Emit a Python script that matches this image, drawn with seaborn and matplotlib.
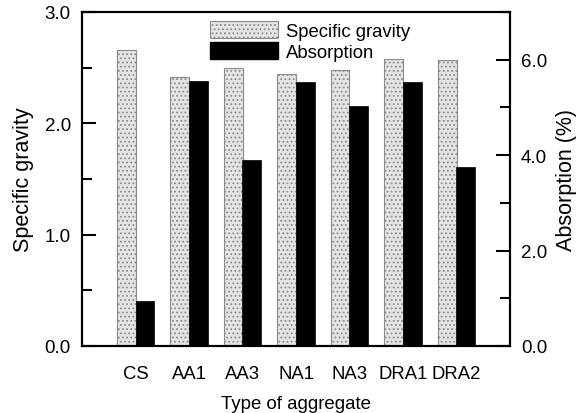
import numpy as np
import pandas as pd
import matplotlib
matplotlib.use("Agg")
import matplotlib.pyplot as plt
import seaborn as sns
from matplotlib.ticker import MultipleLocator, FormatStrFormatter
from matplotlib.patches import Patch

categories = ["CS", "AA1", "AA3", "NA1", "NA3", "DRA1", "DRA2"]
specific_gravity = [2.66, 2.42, 2.50, 2.44, 2.48, 2.58, 2.57]
absorption = [0.94, 5.56, 3.90, 5.54, 5.04, 5.54, 3.75]

sns.set_style("ticks")
plt.rcParams["font.family"] = ["Liberation Sans", "DejaVu Sans"]
plt.rcParams["hatch.linewidth"] = 0.8
for k in ["text.color", "axes.labelcolor", "xtick.color", "ytick.color", "axes.edgecolor"]:
    plt.rcParams[k] = "black"

fig = plt.figure(figsize=(5.84, 4.14), dpi=100)
ax = fig.add_axes([82/584, 1-347/414, 428/584, 334/414])
ax2 = ax.twinx()

bw = 0.355
df = pd.DataFrame({"cat": categories, "sg": specific_gravity, "ab": absorption})

sns.barplot(data=df, x="cat", y="sg", ax=ax, width=bw, color="#e4e4e4",
            edgecolor="#8a8a8a", linewidth=0.8, hatch="....", saturation=1)
for p in ax.patches:
    p.set_x(p.get_x() - bw/2)
sns.barplot(data=df, x="cat", y="ab", ax=ax2, width=bw, color="black",
            edgecolor="black", linewidth=0.5, saturation=1)
for p in ax2.patches:
    p.set_x(p.get_x() + bw/2)

ax.set_xlim(-1, 7)
ax.set_ylim(0, 3.0)
ax2.set_ylim(0, 7.0)

ax.yaxis.set_major_locator(MultipleLocator(1.0))
ax.yaxis.set_minor_locator(MultipleLocator(0.5))
ax2.yaxis.set_major_locator(MultipleLocator(2.0))
ax2.yaxis.set_minor_locator(MultipleLocator(1.0))
ax.yaxis.set_major_formatter(FormatStrFormatter("%.1f"))
ax2.yaxis.set_major_formatter(FormatStrFormatter("%.1f"))

for a in (ax, ax2):
    a.tick_params(axis="y", which="major", direction="in", length=10, width=1.5,
                  labelsize=13.5, pad=8)
    a.tick_params(axis="y", which="minor", direction="in", length=7, width=1.5)
    for s in a.spines.values():
        s.set_visible(True)
        s.set_linewidth(1.5)
ax.tick_params(axis="x", length=0, labelsize=13.3, pad=14)
ax2.tick_params(axis="y", which="both", right=True, left=False)

ax.set_xlabel("Type of aggregate", fontsize=13.4, labelpad=9)
ax.set_ylabel("Specific gravity", fontsize=15.5, labelpad=8)
ax2.set_ylabel("Absorption (%)", fontsize=15.5, labelpad=6)

handles = [Patch(facecolor="#e4e4e4", edgecolor="#8a8a8a", hatch="....", linewidth=0.8),
           Patch(facecolor="black", edgecolor="black")]
ax2.legend(handles, ["Specific gravity", "Absorption"], loc="upper left",
           bbox_to_anchor=((210-82)/428, 1-(22-13)/334), frameon=False, fontsize=13.3,
           handlelength=68/18.5, handleheight=1.05, handletextpad=0.45,
           labelspacing=0.1, borderaxespad=0, borderpad=0)

fig.savefig("out.png", dpi=100)
